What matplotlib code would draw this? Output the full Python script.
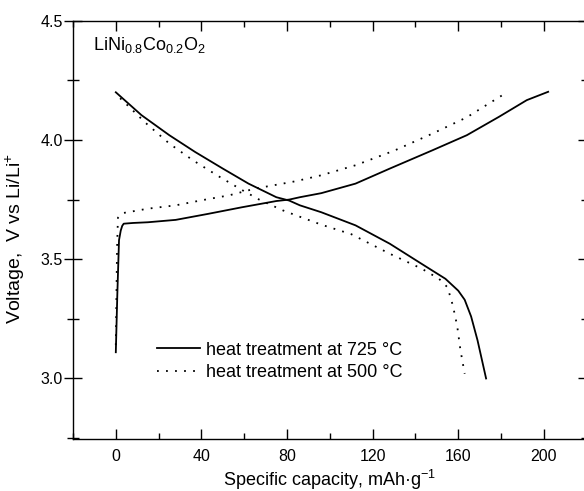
import matplotlib
matplotlib.use("Agg")
import matplotlib.pyplot as plt
from matplotlib.ticker import MultipleLocator

plt.rcParams["font.family"] = ["Liberation Sans", "DejaVu Sans"]
plt.rcParams["mathtext.fontset"] = "custom"
plt.rcParams["mathtext.rm"] = "Liberation Sans"
plt.rcParams["mathtext.it"] = "Liberation Sans:italic"

# heat treatment at 725 C - charge
cap_725_ch = [0, 0.7, 1.5, 2.3, 3.0, 3.7, 8, 15, 28, 43, 59, 75, 81, 86, 96, 112,
              128, 148, 164, 179, 192, 202]
v_725_ch = [3.11, 3.35, 3.58, 3.62, 3.64, 3.649, 3.652, 3.655, 3.665, 3.69, 3.718,
            3.744, 3.75, 3.76, 3.777, 3.817, 3.88, 3.957, 4.02, 4.097, 4.167, 4.202]

# heat treatment at 725 C - discharge
cap_725_dis = [0, 12, 25, 37, 50, 62, 75, 81, 86, 96, 112, 128, 143, 154, 160,
               163, 166, 169, 173]
v_725_dis = [4.20, 4.104, 4.02, 3.95, 3.88, 3.817, 3.76, 3.746, 3.726, 3.697, 3.642,
             3.565, 3.48, 3.418, 3.368, 3.33, 3.26, 3.16, 3.00]

# heat treatment at 500 C - charge
cap_500_ch = [0, 0.3, 0.6, 1.0, 3.0, 15, 28, 40, 53, 65, 78, 84, 96, 112, 130,
              148, 164, 172, 181]
v_500_ch = [3.14, 3.35, 3.55, 3.674, 3.693, 3.712, 3.726, 3.747, 3.768, 3.796, 3.817,
            3.827, 3.852, 3.894, 3.955, 4.027, 4.095, 4.14, 4.19]

# heat treatment at 500 C - discharge
cap_500_dis = [2, 3, 14, 25, 36, 48, 59, 67, 78, 83, 96, 110, 128, 143, 151, 155,
               157.5, 159.5, 161, 163]
v_500_dis = [4.175, 4.167, 4.071, 3.985, 3.915, 3.848, 3.79, 3.75, 3.705, 3.688,
             3.645, 3.605, 3.523, 3.46, 3.418, 3.382, 3.305, 3.22, 3.12, 3.02]

labels = ["heat treatment at 725 \u00b0C", "heat treatment at 500 \u00b0C"]

fig = plt.figure(figsize=(5.84, 4.91), dpi=100)
ax = fig.add_axes([0.125, 0.1053, 0.8796, 0.8525])

dots = (0, (1, 4))
ax.plot(cap_725_ch, v_725_ch, color="black", lw=1.3, label=labels[0])
ax.plot(cap_725_dis, v_725_dis, color="black", lw=1.3)
ax.plot(cap_500_ch, v_500_ch, color="black", lw=1.3, ls=dots, label=labels[1])
ax.plot(cap_500_dis, v_500_dis, color="black", lw=1.3, ls=dots)

ax.set_xlim(-20, 220)
ax.set_ylim(2.745, 4.5)
ax.xaxis.set_major_locator(MultipleLocator(40))
ax.xaxis.set_minor_locator(MultipleLocator(20))
ax.yaxis.set_major_locator(MultipleLocator(0.5))
ax.yaxis.set_minor_locator(MultipleLocator(0.25))
ax.set_yticks([3.0, 3.5, 4.0, 4.5])

ax.tick_params(axis="x", which="both", direction="in", top=True, labelsize=11.5, pad=7)
ax.tick_params(axis="x", which="major", length=7, width=1)
ax.tick_params(axis="x", which="minor", length=4, width=1)
ax.tick_params(axis="y", which="both", direction="inout", labelsize=11.5, pad=1)
ax.tick_params(axis="y", which="major", length=13, width=1)
ax.tick_params(axis="y", which="minor", length=8, width=1)
for s in ax.spines.values():
    s.set_linewidth(1)

# right side ticks
sec = ax.secondary_yaxis("right")
sec.yaxis.set_major_locator(MultipleLocator(0.5))
sec.yaxis.set_minor_locator(MultipleLocator(0.25))
sec.tick_params(which="both", direction="inout", labelright=False)
sec.tick_params(which="major", length=13, width=1)
sec.tick_params(which="minor", length=8, width=1)

ax.set_xlabel("Specific capacity, mAh\u00b7g$^{-1}$", fontsize=13, labelpad=3)
ax.set_ylabel("Voltage,  V vs Li/Li$^{+}$", fontsize=14)
ax.yaxis.set_label_coords(-0.09, 0.48)

ax.text(0.038, 0.967, "LiNi$_{0.8}$Co$_{0.2}$O$_{2}$", transform=ax.transAxes,
        fontsize=13, va="top", ha="left")

ax.legend(loc="upper left", bbox_to_anchor=(0.163, 0.233), frameon=False,
          fontsize=13, handlelength=2.4, handletextpad=0.35, labelspacing=0.3,
          borderpad=0, borderaxespad=0)

fig.savefig("out.png", dpi=100)
